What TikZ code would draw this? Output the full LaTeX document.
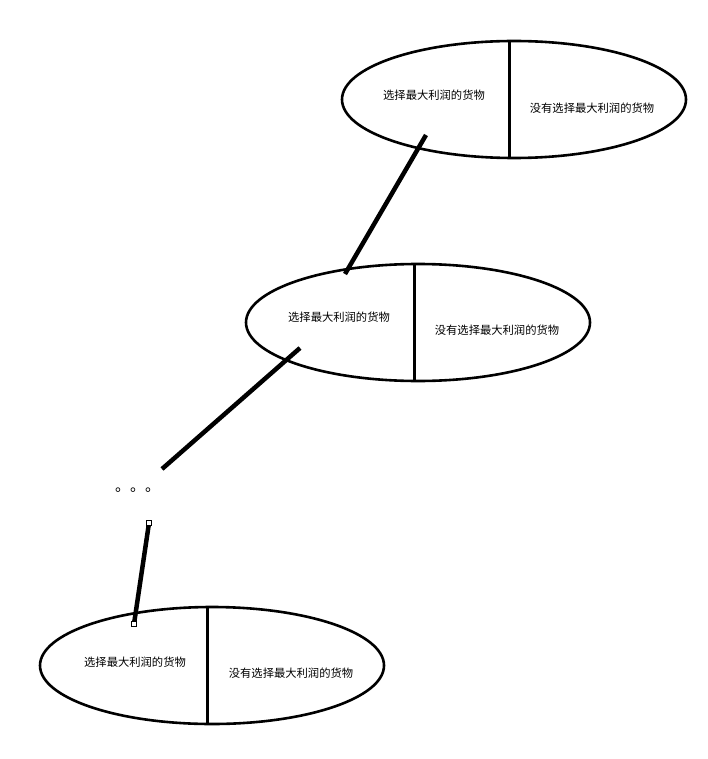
\documentclass[tikz,border=0pt]{standalone}
\usepackage{fontspec}
\newfontfamily\cjk{Noto Sans CJK SC}
\usetikzlibrary{shapes.geometric,positioning}

\begin{document}
\begin{tikzpicture}[x=1pt,y=-1pt,
  stage/.style={ellipse, draw=black, line width=2.6pt, minimum width=344pt, minimum height=117pt, inner sep=0pt},
  txt/.style={font=\cjk\fontsize{11.3}{13}\selectfont, inner sep=0pt},
  divider/.style={line width=3pt},
  link/.style={line width=4.5pt},
  handle/.style={rectangle, draw=black, fill=white, line width=0.8pt, minimum size=5pt, inner sep=0pt}
]
\useasboundingbox (0,0) rectangle (708,759);

% Top stage
\node[stage] (top) at (514,99.5) {};
\draw[divider] (509,40) -- (509,158);
\node[txt] (toppick) at (434,95) {选择最大利润的货物};
\node[txt] (topskip) at (592,108) {没有选择最大利润的货物};

% Middle stage
\node[stage] (mid) at (418,322.5) {};
\draw[divider] (414,263) -- (414,381);
\node[txt] (midpick) at (339,317) {选择最大利润的货物};
\node[txt] (midskip) at (497,330) {没有选择最大利润的货物};

% Bottom stage
\node[stage] (low) at (212,665.5) {};
\draw[divider] (207,606) -- (207,724);
\node[txt] (lowpick) at (135,662) {选择最大利润的货物};
\node[txt] (lowskip) at (291,673) {没有选择最大利润的货物};

% Links between stages
\coordinate (topfoot) at (426,135);
\coordinate (midhead) at (345,274);
\coordinate (midfoot) at (300,348);
\coordinate (gaphead) at (162,469);
\draw[link] (topfoot) -- (midhead);
\draw[link] (midfoot) -- (gaphead);

% Skipped stages
\node[font=\cjk\fontsize{15}{15}\selectfont, inner sep=0pt, anchor=base west] (gap) at (115,491) {。。。};

\node[handle] (gapfoot) at (149,523) {};
\node[handle] (lowhead) at (134,624) {};
\draw[link] (gapfoot) -- (lowhead);

\end{tikzpicture}
\end{document}
